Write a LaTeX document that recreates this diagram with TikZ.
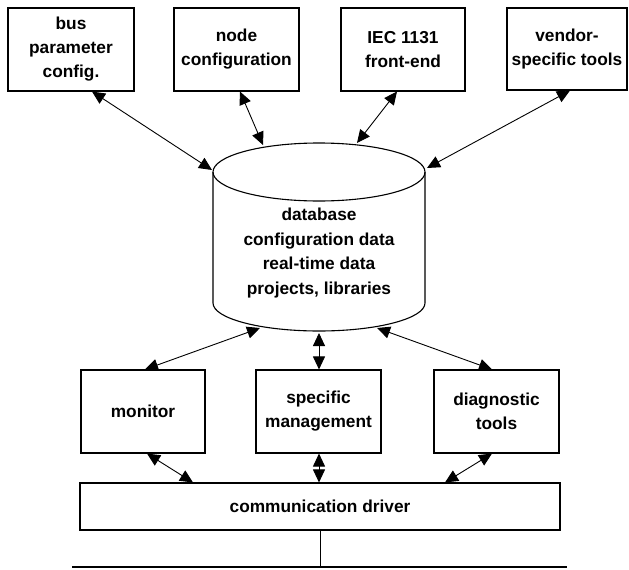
\documentclass[tikz,border=0pt]{standalone}
\usepackage{fontspec}
\setmainfont{Liberation Sans}
\usetikzlibrary{arrows.meta}
\tikzset{
  box/.style={draw, line width=1.1pt, inner sep=0pt, align=center,
    font=\bfseries\fontsize{17.3}{24}\selectfont},
  lbl/.style={inner sep=0pt, align=center, font=\bfseries\fontsize{17.3}{24.7}\selectfont},
  biarrow/.style={line width=0.9pt, {Triangle[length=13pt,width=12pt]}-{Triangle[length=13pt,width=12pt]}},
}
\begin{document}
\begin{tikzpicture}[x=1pt,y=-1pt]
\useasboundingbox (0,0) rectangle (629,570);
% top row
\node[box, minimum width=126pt, minimum height=83pt] (b1) at (71,49.5) {bus\\parameter\\config.};
\node[box, minimum width=125pt, minimum height=83pt] (b2) at (236.5,49.5) {node\\configuration};
\node[box, minimum width=124pt, minimum height=83pt] (b3) at (403,49.5) {IEC 1131\\front-end};
\node[box, minimum width=120pt, minimum height=82pt] (b4) at (567,49) {vendor-\\specific tools};
% database cylinder
\draw[line width=1.1pt] (319,172) ellipse[x radius=106, y radius=29];
\draw[line width=1.1pt] (213,172) -- (213,303)
  arc[start angle=180, end angle=0, x radius=106, y radius=28] -- (425,172);
\node[lbl] (db) at (319,253) {database\\configuration data\\real-time data\\projects, libraries};
\coordinate (dbA) at (212,170);
\coordinate (dbB) at (263,145);
\coordinate (dbC) at (357,143);
\coordinate (dbD) at (427,168);
\coordinate (dbE) at (260,328);
\coordinate (dbF) at (319,333);
\coordinate (dbG) at (377,328);
% middle row
\node[box, minimum width=124pt, minimum height=83pt] (mon) at (143,411.5) {monitor};
\node[box, minimum width=125pt, minimum height=83pt] (spec) at (318.5,411.5) {specific\\management};
\node[box, minimum width=125pt, minimum height=83pt] (diag) at (496.5,411.5) {diagnostic\\tools};
% communication driver
\node[box, minimum width=480pt, minimum height=47pt] (comm) at (320,506.5) {communication driver};
\coordinate (busL) at (72,567);
\coordinate (busR) at (567,567);
\coordinate (busM) at (320,567);
% connectors
\draw[biarrow] ([xshift=21pt]b1.south) -- (dbA);
\draw[biarrow] ([xshift=3.5pt]b2.south) -- (dbB);
\draw[biarrow] ([xshift=-6pt]b3.south) -- (dbC);
\draw[biarrow] ([xshift=3pt]b4.south) -- (dbD);
\draw[biarrow] (dbE) -- ([xshift=2pt]mon.north);
\draw[biarrow] (dbF) -- ([xshift=0.5pt]spec.north);
\draw[biarrow] (dbG) -- ([xshift=-4.5pt]diag.north);
\draw[biarrow] ([xshift=4pt]mon.south) -- ([xshift=-127pt]comm.north);
\draw[biarrow] ([xshift=0.5pt]spec.south) -- ([xshift=-1pt]comm.north);
\draw[biarrow] ([xshift=-4.5pt]diag.south) -- ([xshift=125pt]comm.north);
\draw[line width=1pt] (comm.south) -- (busM);
\draw[line width=1.4pt] (busL) -- (busR);
\end{tikzpicture}
\end{document}
